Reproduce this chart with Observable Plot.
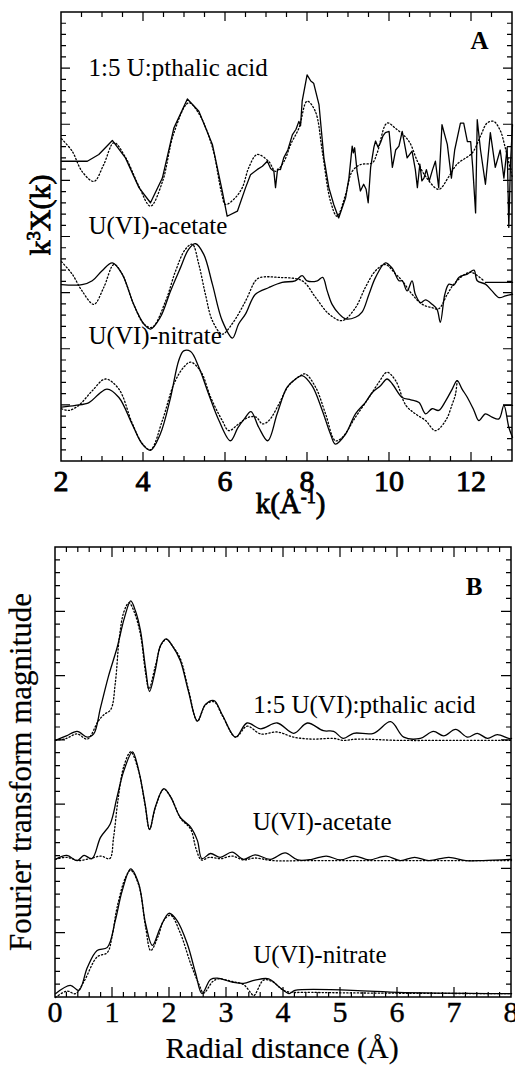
<!DOCTYPE html>
<html><head><meta charset="utf-8">
<script src="https://cdn.jsdelivr.net/npm/d3@7"></script>
<script src="https://cdn.jsdelivr.net/npm/@observablehq/plot@0.6"></script>
<style>
body{margin:0;background:#fff;}
#chart{width:515px;}
#chart svg{display:block;overflow:visible;}
</style></head><body><div id="chart"></div>
<script>
// ---------- Panel A: k^3 chi(k) vs k (offset curves) ----------
const chiPthalicData = [[2.0,5.35],[2.63,5.35],[2.91,5.47],[3.24,5.72],[3.56,5.41],[3.89,4.88],[4.17,4.61],[4.46,5.05],[4.74,5.94],[5.07,6.46],[5.35,6.24],[5.68,5.65],[5.92,4.82],[6.04,4.37],[6.29,4.46],[6.49,4.88],[6.61,5.11],[6.77,5.2],[6.9,5.26],[7.02,5.35],[7.1,5.22],[7.18,5.17],[7.22,4.88],[7.27,5.21],[7.34,5.2],[7.42,5.41],[7.52,5.55],[7.63,5.82],[7.72,5.92],[7.79,6.06],[7.83,5.98],[7.87,6.42],[7.99,6.89],[8.08,6.78],[8.15,6.74],[8.28,6.36],[8.4,5.41],[8.52,4.88],[8.64,4.58],[8.76,4.34],[8.93,4.70],[9.01,5.05],[9.09,5.62],[9.12,5.5],[9.15,5.59],[9.21,5.17],[9.29,4.82],[9.37,4.94],[9.43,4.85],[9.48,4.61],[9.54,5.24],[9.62,5.6],[9.66,5.71],[9.72,5.6],[9.78,5.68],[9.84,5.8],[9.9,5.86],[9.99,5.88],[10.07,5.24],[10.15,5.55],[10.23,5.62],[10.31,5.88],[10.43,5.41],[10.55,5.53],[10.63,5.2],[10.68,4.88],[10.74,5.3],[10.79,5.0],[10.84,5.05],[10.9,5.2],[10.97,5.0],[11.05,5.2],[11.12,5.35],[11.2,4.88],[11.28,6.0],[11.41,5.65],[11.51,5.05],[11.59,5.55],[11.73,6.03],[11.81,6.03],[11.9,5.7],[11.98,5.7],[12.03,5.24],[12.1,4.43],[12.14,6.09],[12.22,5.55],[12.34,4.94],[12.46,5.86],[12.58,5.24],[12.7,5.55],[12.79,5.05],[12.87,5.6],[12.91,4.17],[12.95,5.3],[13.0,6.0]];
const chiPthalicFit = [[2.0,5.75],[2.26,5.53],[2.5,5.17],[2.79,4.99],[3.03,5.29],[3.28,5.68],[3.56,5.42],[3.89,4.9],[4.17,4.55],[4.46,4.98],[4.74,5.85],[5.1,6.39],[5.35,6.2],[5.68,5.6],[5.9,4.8],[6.0,4.58],[6.24,4.7],[6.41,4.88],[6.57,5.24],[6.77,5.47],[7.05,5.35],[7.22,5.17],[7.43,5.35],[7.59,5.65],[7.79,5.94],[7.99,6.42],[8.19,6.24],[8.36,5.53],[8.56,4.64],[8.72,4.37],[8.93,4.76],[9.09,5.17],[9.29,5.29],[9.58,5.32],[9.7,5.5],[9.94,6.03],[10.14,5.94],[10.47,5.71],[10.68,5.35],[10.88,5.08],[11.2,4.85],[11.45,5.08],[11.65,5.3],[12.02,5.5],[12.22,5.8],[12.38,6.03],[12.54,6.06],[12.7,5.9],[12.82,5.6],[12.95,5.2],[13.0,5.05]];
const chiAcetateData = [[2.0,3.15],[2.5,3.15],[2.75,3.22],[2.99,3.4],[3.24,3.54],[3.48,3.34],[3.76,2.8],[4.01,2.45],[4.17,2.36],[4.41,2.57],[4.66,3.04],[4.9,3.45],[5.1,3.78],[5.27,3.88],[5.47,3.69],[5.68,3.16],[5.92,2.51],[6.17,2.2],[6.32,2.45],[6.49,2.63],[6.73,2.98],[7.06,3.1],[7.38,3.19],[7.7,3.22],[7.87,3.31],[7.99,3.22],[8.24,3.22],[8.37,3.28],[8.48,3.04],[8.6,2.8],[8.77,2.63],[8.93,2.54],[9.17,2.57],[9.33,2.66],[9.5,2.98],[9.66,3.28],[9.9,3.54],[10.07,3.44],[10.23,3.22],[10.31,3.22],[10.43,3.04],[10.55,3.22],[10.63,2.98],[10.76,2.83],[10.88,2.88],[11.04,2.8],[11.16,2.71],[11.24,2.48],[11.35,2.98],[11.45,3.16],[11.57,3.14],[11.69,3.28],[11.9,3.34],[12.06,3.41],[12.14,3.22],[12.34,3.16],[12.5,3.04],[12.67,2.92],[12.83,2.95],[13.0,2.98]];
const chiAcetateFit = [[2.0,3.56],[2.26,3.34],[2.5,3.04],[2.79,2.8],[3.03,3.1],[3.28,3.51],[3.48,3.34],[3.76,2.8],[4.01,2.45],[4.21,2.39],[4.54,2.86],[4.78,3.39],[5.02,3.78],[5.19,3.87],[5.35,3.51],[5.51,2.98],[5.68,2.51],[5.92,2.27],[6.16,2.45],[6.49,2.86],[6.73,3.22],[6.85,3.28],[7.3,3.28],[7.87,3.22],[8.2,2.92],[8.52,2.63],[8.85,2.51],[9.17,2.74],[9.41,3.1],[9.66,3.4],[9.9,3.51],[10.15,3.34],[10.31,3.22],[10.55,2.98],[10.8,2.8],[11.04,2.74],[11.2,2.72],[11.41,2.98],[11.57,3.16],[11.85,3.34],[12.0,3.37],[12.3,3.22]];
const chiAcetateTail = [[12.34,3.19],[13.0,3.19]];
const chiNitrateData = [[2.0,0.97],[2.34,1.0],[2.67,1.05],[2.91,1.2],[3.11,1.29],[3.4,1.14],[3.72,0.67],[3.97,0.31],[4.17,0.2],[4.41,0.49],[4.66,1.14],[4.86,1.8],[4.98,1.97],[5.15,1.96],[5.35,1.68],[5.59,1.2],[5.84,0.73],[6.12,0.37],[6.3,0.6],[6.45,0.75],[6.62,0.89],[6.81,0.61],[7.03,0.37],[7.26,0.85],[7.5,1.32],[7.71,1.47],[7.87,1.53],[8.11,1.35],[8.36,0.91],[8.56,0.49],[8.68,0.31],[8.93,0.49],[9.17,0.85],[9.41,1.05],[9.58,1.23],[9.78,1.35],[9.94,1.47],[10.07,1.38],[10.31,1.14],[10.52,1.1],[10.72,1.05],[10.88,0.85],[11.04,0.94],[11.2,0.91],[11.37,1.08],[11.53,1.29],[11.65,1.44],[11.77,1.29],[11.9,1.14],[12.06,0.91],[12.18,0.73],[12.34,0.85],[12.5,0.79],[12.67,0.76],[12.79,1.0],[12.91,0.61],[13.0,0.43]];
const chiNitrateFit = [[2.0,0.94],[2.18,0.91],[2.42,1.0],[2.75,1.26],[3.07,1.47],[3.4,1.29],[3.72,0.69],[3.97,0.32],[4.17,0.21],[4.46,0.73],[4.74,1.38],[4.98,1.68],[5.15,1.77],[5.4,1.6],[5.64,1.14],[5.92,0.73],[6.08,0.55],[6.32,0.67],[6.57,0.79],[6.75,0.79],[6.9,0.67],[7.06,0.73],[7.3,1.02],[7.54,1.35],[7.83,1.53],[7.95,1.56],[8.2,1.32],[8.44,0.85],[8.68,0.37],[8.85,0.43],[9.17,0.79],[9.5,1.14],[9.74,1.41],[9.94,1.59],[10.15,1.44],[10.4,1.0],[10.63,0.85],[10.88,0.73],[11.12,0.55],[11.37,0.73],[11.53,1.02],[11.61,1.2],[11.65,1.44]];
const chiNitrateTail = [[12.79,1.0],[13.0,1.0]];
const kMajorTicks = [2,4,6,8,10,12];
const chiLabelTexts = ["1:5 U:pthalic acid","U(VI)-acetate","U(VI)-nitrate"];
const chiLabelK = [2.66,2.66,2.66];
const chiLabelV = [6.86,4.05,2.10];

// ---------- Panel B: Fourier transform magnitude vs R ----------
const ftPthalicData = [[0,4.0],[0.19,4.07],[0.38,4.14],[0.56,4.05],[0.67,4.1],[0.79,4.51],[0.93,5.0],[1.08,5.44],[1.21,5.91],[1.32,6.17],[1.40,6.02],[1.49,5.71],[1.58,5.12],[1.65,4.76],[1.75,5.09],[1.84,5.47],[1.94,5.58],[2.05,5.47],[2.19,5.24],[2.33,4.77],[2.49,4.3],[2.63,4.56],[2.78,4.62],[2.93,4.39],[3.16,4.05],[3.36,4.27],[3.60,4.18],[3.89,4.27],[4.18,4.11],[4.42,4.27],[4.70,4.15],[4.88,4.14],[5.05,4.03],[5.23,4.11],[5.58,4.11],[5.88,4.29],[6.11,4.05],[6.40,4.03],[6.63,4.14],[6.81,4.07],[7.02,4.17],[7.23,4.05],[7.40,4.11],[7.58,4.03],[7.75,4.09],[7.95,4.03],[8,4.03]];
const ftPthalicFit = [[0,4.0],[0.19,4.03],[0.38,4.1],[0.56,4.02],[0.75,4.3],[0.85,4.4],[0.97,4.48],[1.05,4.9],[1.12,5.6],[1.20,6.0],[1.29,6.14],[1.38,6.0],[1.49,5.65],[1.58,5.05],[1.64,4.8],[1.75,5.15],[1.86,5.5],[1.95,5.57],[2.05,5.47],[2.19,5.27],[2.33,4.8],[2.49,4.3],[2.63,4.55],[2.78,4.6],[2.93,4.38],[3.16,4.05],[3.36,4.22],[3.60,4.1],[3.89,4.13],[4.18,4.05],[4.5,4.02],[4.88,4.03],[5.05,4.0],[5.3,4.02],[6.0,4.0],[7.0,4.0],[8,4.0]];
const ftAcetateData = [[0,2.15],[0.2,2.21],[0.38,2.13],[0.5,2.21],[0.64,2.16],[0.79,2.49],[0.96,2.7],[1.08,3.12],[1.20,3.53],[1.35,3.82],[1.46,3.53],[1.57,3.02],[1.65,2.61],[1.75,2.96],[1.90,3.25],[2.02,3.12],[2.19,2.80],[2.37,2.65],[2.49,2.44],[2.57,2.16],[2.72,2.24],[2.89,2.18],[3.1,2.26],[3.3,2.15],[3.5,2.22],[3.77,2.15],[4.03,2.25],[4.25,2.14],[4.5,2.15],[4.75,2.2],[5.0,2.14],[5.25,2.2],[5.5,2.14],[5.8,2.2],[6.05,2.13],[6.3,2.18],[6.55,2.13],[6.9,2.18],[7.2,2.13],[7.5,2.13],[8,2.15]];
const ftAcetateFit = [[0,2.15],[0.2,2.18],[0.4,2.13],[0.6,2.16],[0.8,2.2],[0.95,2.16],[1.02,2.5],[1.1,3.1],[1.2,3.6],[1.32,3.82],[1.45,3.55],[1.57,3.0],[1.65,2.62],[1.76,2.98],[1.9,3.24],[2.02,3.12],[2.2,2.78],[2.37,2.62],[2.47,2.3],[2.56,2.14],[2.7,2.18],[2.9,2.16],[3.1,2.2],[3.3,2.14],[3.5,2.17],[3.8,2.13],[4.5,2.13],[8,2.13]];
const ftNitrateData = [[0,0.06],[0.26,0.19],[0.41,0.11],[0.56,0.47],[0.73,0.73],[0.91,0.78],[1.05,1.2],[1.17,1.66],[1.32,2.0],[1.46,1.77],[1.58,1.15],[1.70,0.81],[1.84,1.09],[1.99,1.31],[2.13,1.2],[2.31,0.84],[2.46,0.37],[2.57,0.06],[2.72,0.28],[2.84,0.3],[3.1,0.24],[3.3,0.22],[3.5,0.27],[3.74,0.29],[3.93,0.16],[4.1,0.06],[4.2,0.11],[5.5,0.1],[6,0.08],[8,0.06]];
const ftNitrateFit = [[0,0.0],[0.2,0.1],[0.35,0.06],[0.5,0.25],[0.73,0.63],[0.91,0.7],[0.99,0.94],[1.08,1.4],[1.23,1.87],[1.32,1.98],[1.46,1.75],[1.58,1.1],[1.67,0.73],[1.8,0.95],[1.9,1.2],[2.02,1.28],[2.19,1.0],[2.37,0.53],[2.52,0.2],[2.6,0.07],[2.76,0.25],[2.86,0.29],[3.1,0.25],[3.3,0.2],[3.42,0.08],[3.48,0.03],[3.65,0.27],[3.8,0.25],[4.03,0.1],[4.5,0.08],[8,0.06]];
const rMajorTicks = [0,1,2,3,4,5,6,7,8];
const ftLabelTexts = ["1:5 U(VI):pthalic acid","U(VI)-acetate","U(VI)-nitrate"];
const ftLabelR = [3.47,3.46,3.47];
const ftLabelV = [4.42,2.60,0.54];

// ---------- helpers ----------
const FONT = "'Liberation Serif','Times New Roman',Times,serif";
const tick = (a, b, s) => d3.range(a, b + 1e-9, s).map(v => +v.toFixed(3));

function frameDecor({xMajor, xMinor, yMajor, yMinor, majorLen, minorLen, tickLabelDy, weight, xLabel, yLabel}) {
  return (index, scales, values, dims) => {
    const {x, y} = scales;
    const {width, height, marginLeft, marginRight, marginTop, marginBottom} = dims;
    const x0 = marginLeft, x1 = width - marginRight, y0 = marginTop, y1 = height - marginBottom;
    const g = d3.create("svg:g");
    let p = "";
    const isMaj = (arr, v) => arr.some(m => Math.abs(m - v) < 1e-6);
    for (const v of xMinor) {
      const px = x(v); if (px <= x0 + 0.5 || px >= x1 - 0.5) continue;
      const L = isMaj(xMajor, v) ? majorLen : minorLen;
      p += `M${px},${y1}v${-L}M${px},${y0}v${L}`;
    }
    for (const v of yMinor) {
      const py = y(v); if (py <= y0 + 0.5 || py >= y1 - 0.5) continue;
      const L = isMaj(yMajor, v) ? majorLen : minorLen;
      p += `M${x0},${py}h${L}M${x1},${py}h${-L}`;
    }
    g.append("path").attr("d", p).attr("stroke", "#000").attr("stroke-width", 1.2).attr("fill", "none");
    g.append("rect").attr("x", x0).attr("y", y0).attr("width", x1 - x0).attr("height", y1 - y0)
      .attr("fill", "none").attr("stroke", "#000").attr("stroke-width", 1.5);
    // tick labels from the x scale
    g.append("g").selectAll("text").data(xMajor).join("text")
      .attr("x", d => x(d)).attr("y", y1 + tickLabelDy)
      .attr("text-anchor", "middle").attr("font-family", FONT).attr("font-size", 30)
      .attr("fill", "#000").attr("stroke", "#000").attr("stroke-width", weight.ticks)
      .text(d => String(d));
    // axis titles (with optional superscript)
    const addText = (spec) => {
      const t = g.append("text").attr("font-family", FONT).attr("font-size", spec.size)
        .attr("fill", "#000").attr("stroke", "#000").attr("stroke-width", spec.stroke).attr("text-anchor", "middle")
        .attr("transform", `translate(${spec.x},${spec.y})${spec.rotate ? " rotate(-90)" : ""}`);
      let shift = null;
      for (const part of spec.parts) {
        if (typeof part === "string") {
          const ts = t.append("tspan").text(part);
          if (shift) { ts.attr("dy", shift); shift = null; }
        } else {
          t.append("tspan").attr("font-size", "0.62em").attr("dy", "-0.55em").text(part.sup);
          shift = "0.341em";
        }
      }
    };
    addText({x: (x0 + x1) / 2 + xLabel.dx, y: y1 + xLabel.dy, size: xLabel.size, parts: xLabel.parts, stroke: weight.xLabel});
    addText({x: yLabel.x, y: yLabel.y, size: yLabel.size, parts: yLabel.parts, rotate: true, stroke: weight.yLabel});
    return g.node();
  };
}

const lineOpts = (curve) => ({x: d => d[0], y: d => d[1], stroke: "#000", strokeWidth: 1.3, curve});
const fitOpts = (curve) => ({x: d => d[0], y: d => d[1], stroke: "#000", strokeWidth: 1.3, strokeDasharray: "1.3,2.2", curve});

// ---------- Panel A ----------
const chiLabels = chiLabelTexts.map((t, i) => ({t, k: chiLabelK[i], v: chiLabelV[i]}));
const plotA = Plot.plot({
  width: 515, height: 530,
  marginLeft: 61, marginRight: 3, marginTop: 12, marginBottom: 69,
  style: {fontFamily: FONT, fontSize: "30px", background: "white", color: "black", overflow: "visible"},
  x: {domain: [2, 13], axis: null},
  y: {domain: [0, 8], axis: null},
  marks: [
    Plot.line(chiPthalicFit, fitOpts("catmull-rom")),
    Plot.line(chiPthalicData, lineOpts("linear")),
    Plot.line(chiAcetateFit, fitOpts("catmull-rom")),
    Plot.line(chiAcetateData, lineOpts("catmull-rom")),
    Plot.line(chiAcetateTail, lineOpts("linear")),
    Plot.line(chiNitrateFit, fitOpts("catmull-rom")),
    Plot.line(chiNitrateData, lineOpts("catmull-rom")),
    Plot.line(chiNitrateTail, lineOpts("linear")),
    Plot.text(chiLabels, {x: "k", y: "v", text: "t", textAnchor: "start", lineAnchor: "bottom", fontSize: 25, fontFamily: FONT, fill: "#000"}),
    Plot.text(["A"], {frameAnchor: "top-right", dx: -24, dy: 36, text: d => d, textAnchor: "end", lineAnchor: "bottom", fontSize: 25, fontWeight: "bold", fontFamily: FONT, fill: "#000"}),
    frameDecor({
      xMajor: kMajorTicks, xMinor: tick(2, 13, 0.5),
      yMajor: tick(0, 8, 1), yMinor: tick(0, 8, 0.2),
      majorLen: 9, minorLen: 5, tickLabelDy: 30,
      weight: {ticks: 0.9, xLabel: 0.8, yLabel: 0.8},
      xLabel: {dx: 4, dy: 52, size: 29, parts: ["k(\u00c5", {sup: "-1"}, ")"]},
      yLabel: {x: 50, y: 215, size: 30, parts: ["k", {sup: "3"}, "X(k)"]}
    })
  ]
});

// ---------- Panel B ----------
const ftLabels = ftLabelTexts.map((t, i) => ({t, r: ftLabelR[i], v: ftLabelV[i]}));
const plotB = Plot.plot({
  width: 515, height: 536,
  marginLeft: 55, marginRight: 4, marginTop: 17, marginBottom: 69,
  style: {fontFamily: FONT, fontSize: "30px", background: "white", color: "black", overflow: "visible"},
  x: {domain: [0, 8], axis: null},
  y: {domain: [0, 7], axis: null},
  marks: [
    Plot.line(ftPthalicFit, fitOpts("catmull-rom")),
    Plot.line(ftPthalicData, lineOpts("catmull-rom")),
    Plot.line(ftAcetateFit, fitOpts("catmull-rom")),
    Plot.line(ftAcetateData, lineOpts("catmull-rom")),
    Plot.line(ftNitrateFit, fitOpts("catmull-rom")),
    Plot.line(ftNitrateData, lineOpts("catmull-rom")),
    Plot.text(ftLabels, {x: "r", y: "v", text: "t", textAnchor: "start", lineAnchor: "bottom", fontSize: 25, fontFamily: FONT, fill: "#000"}),
    Plot.text(["B"], {frameAnchor: "top-right", dx: -29, dy: 47, text: d => d, textAnchor: "end", lineAnchor: "bottom", fontSize: 25, fontWeight: "bold", fontFamily: FONT, fill: "#000"}),
    frameDecor({
      xMajor: rMajorTicks, xMinor: tick(0, 8, 0.2),
      yMajor: tick(0, 7, 1), yMinor: tick(0, 7, 0.2),
      majorLen: 10, minorLen: 5, tickLabelDy: 25,
      weight: {ticks: 0.4, xLabel: 0.2, yLabel: 0.2},
      xLabel: {dx: -1, dy: 61, size: 30, parts: ["Radial distance (\u00c5)"]},
      yLabel: {x: 31, y: 242, size: 31, parts: ["Fourier transform magnitude"]}
    })
  ]
});

const root = document.getElementById("chart");
root.appendChild(plotA);
root.appendChild(plotB);
</script></body></html>
